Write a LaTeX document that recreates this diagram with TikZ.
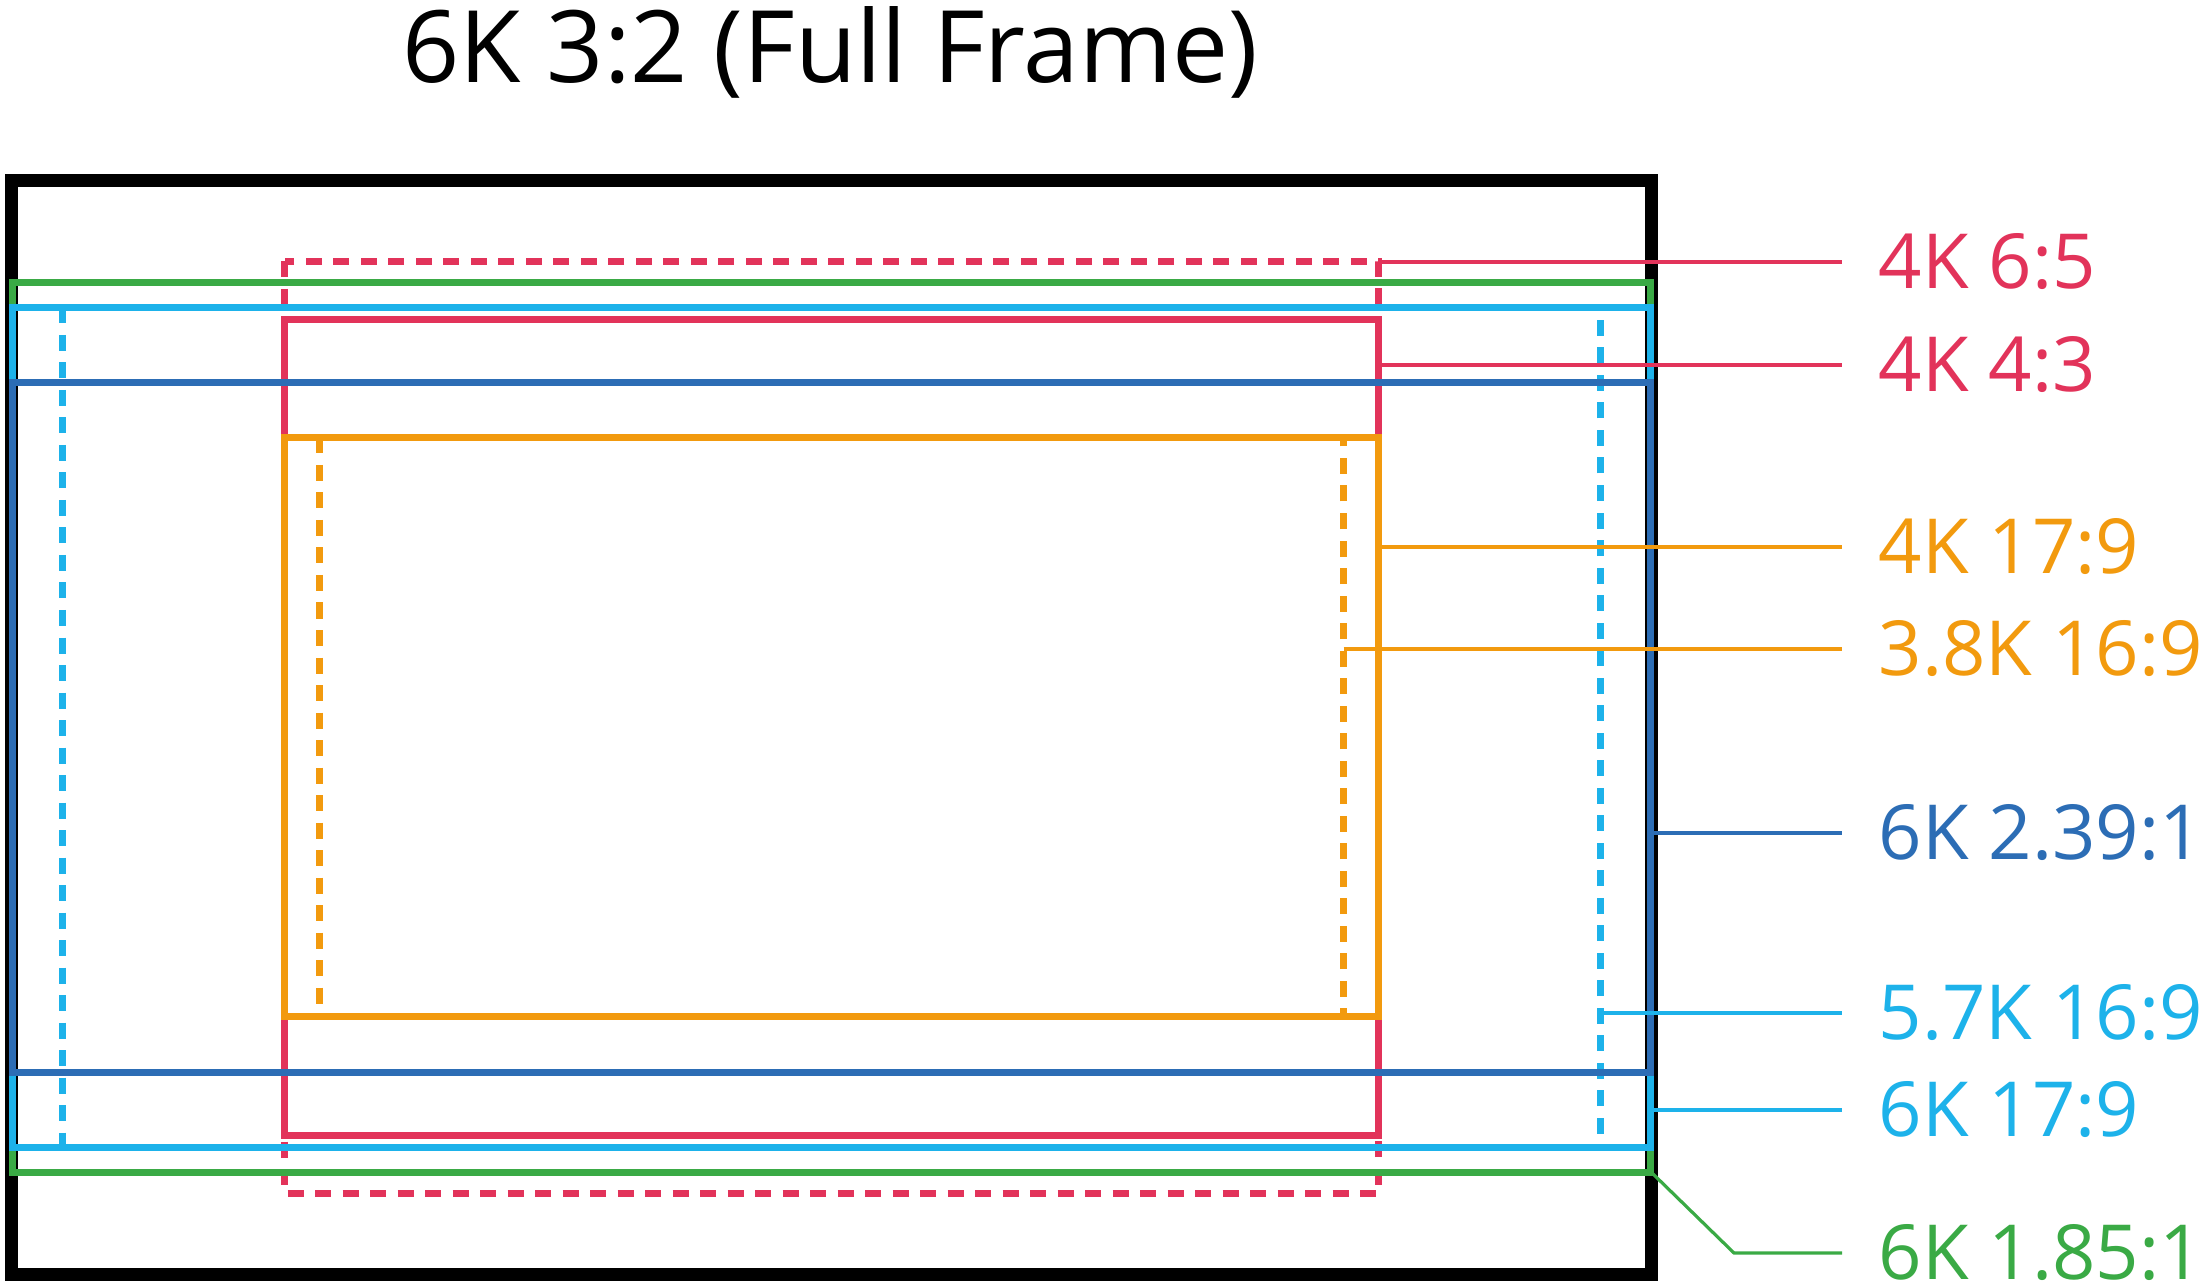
\documentclass[tikz,border=0pt]{standalone}
\usepackage{fontspec}
\setmainfont{Open Sans}
\usepackage{xcolor}
\usepackage{tikz}

\definecolor{cropRed}{HTML}{E2335A}
\definecolor{cropOrange}{HTML}{F29A0E}
\definecolor{cropBlue}{HTML}{2C6DB5}
\definecolor{cropCyan}{HTML}{1DB2EA}
\definecolor{cropGreen}{HTML}{3AAA45}

\begin{document}
\begin{tikzpicture}[x=0.5pt, y=-0.5pt, thick]
    \tikzset{
        crop/.style={line width=3.5pt},
        cropdash/.style={crop, dash pattern=on 8pt off 5.75pt},
        leader/.style={line width=1.6pt},
        tag/.style={anchor=west, inner sep=0pt, inner xsep=18pt, font=\fontsize{38}{44}\selectfont}
    }
    \useasboundingbox (0,0) rectangle (2200,1288);

    \node (Title) [anchor=base, font=\fontsize{50}{58}\selectfont] at (830,83) {6K 3:2 (Full Frame)};

    % full frame sensor
    \draw [line width=6.5pt] (11.5,181) rectangle (1651,1274);

    % crop areas
    \draw [cropdash, cropRed] (284.5,261.5) rectangle (1378.5,1193.5);
    \draw [crop, cropRed] (284.5,320) rectangle (1378.5,1135);
    \draw [crop, cropOrange] (284.5,437.5) rectangle (1378.5,1016);
    \draw [cropdash, cropOrange] (319,437.5) rectangle (1343.5,1016);
    \draw [crop, cropGreen] (12,282.5) rectangle (1650,1172);
    \draw [crop, cropCyan] (12,307.5) rectangle (1650,1147.5);
    \draw [cropdash, cropCyan] (62,307.5) rectangle (1600.5,1147.5);
    \draw [crop, cropBlue] (12,382.5) rectangle (1650,1072.5);

    % leader start points
    \coordinate (R65) at (1378.5,262);
    \coordinate (R43) at (1378.5,365);
    \coordinate (O179) at (1378.5,547);
    \coordinate (O169) at (1343.5,649);
    \coordinate (B239) at (1651,833);
    \coordinate (C57) at (1600.5,1013);
    \coordinate (C179) at (1651,1110);
    \coordinate (G185) at (1651,1172);

    % labels
    \node (L65) [tag, text=cropRed] at (1842,262) {4K 6:5};
    \node (L43) [tag, text=cropRed] at (1842,365) {4K 4:3};
    \node (L179) [tag, text=cropOrange] at (1842,547) {4K 17:9};
    \node (L169) [tag, text=cropOrange] at (1842,649) {3.8K 16:9};
    \node (L239) [tag, text=cropBlue] at (1842,833) {6K 2.39:1};
    \node (L57) [tag, text=cropCyan] at (1842,1013) {5.7K 16:9};
    \node (L6K) [tag, text=cropCyan] at (1842,1110) {6K 17:9};
    \node (L185) [tag, text=cropGreen] at (1842,1253) {6K 1.85:1};

    \draw [leader, cropRed] (R65) -- (L65.west);
    \draw [leader, cropRed] (R43) -- (L43.west);
    \draw [leader, cropOrange] (O179) -- (L179.west);
    \draw [leader, cropOrange] (O169) -- (L169.west);
    \draw [leader, cropBlue] (B239) -- (L239.west);
    \draw [leader, cropCyan] (C57) -- (L57.west);
    \draw [leader, cropCyan] (C179) -- (L6K.west);
    \draw [leader, cropGreen] (G185) -- ++(83,81) -- (L185.west);

\end{tikzpicture}
\end{document}
